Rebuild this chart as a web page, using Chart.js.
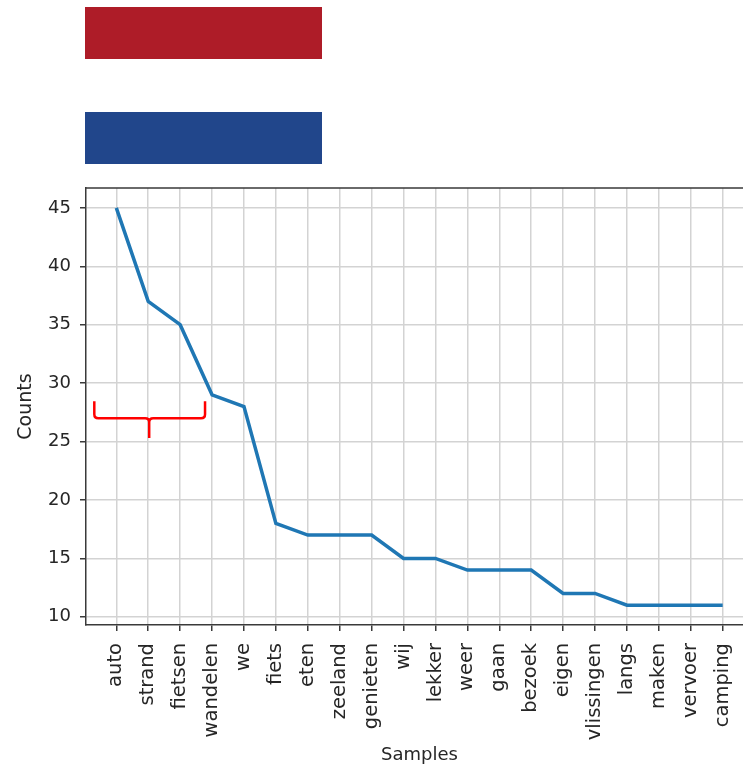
<!DOCTYPE html>
<html>
<head>
<meta charset="utf-8">
<script src="https://cdn.jsdelivr.net/npm/chart.js@4/dist/chart.umd.min.js"></script>
<style>
  html, body { margin: 0; padding: 0; background: #fff; overflow: hidden; width: 743px; height: 767px; }
  .flag { position: absolute; left: 85px; width: 237px; height: 52px; }
  .flag.red  { top: 7px;   background: #ae1c28; }
  .flag.blue { top: 112px; background: #21468b; }
  .chart-wrap { position: absolute; left: 0; top: 0; width: 780px; height: 767px; }
</style>
</head>
<body>
<div class="flag red"></div>
<div class="flag blue"></div>
<div class="chart-wrap"><canvas id="chart"></canvas></div>
<script>
// word frequencies
const samples = ['auto', 'strand', 'fietsen', 'wandelen', 'we', 'fiets', 'eten', 'zeeland', 'genieten', 'wij',
                 'lekker', 'weer', 'gaan', 'bezoek', 'eigen', 'vlissingen', 'langs', 'maken', 'vervoer', 'camping'];
const counts  = [45, 37, 35, 29, 28, 18, 17, 17, 17, 15, 15, 14, 14, 14, 12, 12, 11, 11, 11, 11];
const yTicks  = [10, 15, 20, 25, 30, 35, 40, 45];

// red curly brace annotation, in data units: [left, middle, right] and [arm top, bar, tip]
const braceX = [-0.69, 1.03, 2.78];
const braceY = [28.45, 27.0, 25.3];

const textColor = '#262626';
const family = "'DejaVu Sans', sans-serif";
const font = { family, size: 18 };
const rotFont = { family, size: 19.5 };   // rotated text reads a bit longer in the reference

// top / right spines (matplotlib box)
const spinePlugin = {
  id: 'spines',
  afterDraw(chart) {
    const { ctx, chartArea: a } = chart;
    ctx.save();
    ctx.strokeStyle = '#3a3a3a';
    ctx.lineWidth = 1.5;
    ctx.beginPath();
    ctx.moveTo(a.left, a.top);
    ctx.lineTo(a.right, a.top);
    ctx.lineTo(a.right, a.bottom);
    ctx.stroke();
    ctx.restore();
  }
};

const bracePlugin = {
  id: 'brace',
  afterDatasetsDraw(chart) {
    const { ctx, scales: { x, y } } = chart;
    const xl = x.getPixelForValue(braceX[0]);
    const xm = x.getPixelForValue(braceX[1]);
    const xr = x.getPixelForValue(braceX[2]);
    const yt = y.getPixelForValue(braceY[0]);
    const yb = y.getPixelForValue(braceY[1]);
    const yp = y.getPixelForValue(braceY[2]);
    const r = 4;
    ctx.save();
    ctx.strokeStyle = '#ff0000';
    ctx.lineWidth = 2.5;
    ctx.lineJoin = 'round';
    ctx.beginPath();
    ctx.moveTo(xl, yt);
    ctx.lineTo(xl, yb - r);
    ctx.quadraticCurveTo(xl, yb, xl + r, yb);
    ctx.lineTo(xm - r, yb);
    ctx.quadraticCurveTo(xm, yb, xm, yb + r);
    ctx.lineTo(xm, yp);
    ctx.moveTo(xm, yb + r);
    ctx.quadraticCurveTo(xm, yb, xm + r, yb);
    ctx.lineTo(xr - r, yb);
    ctx.quadraticCurveTo(xr, yb, xr, yb - r);
    ctx.lineTo(xr, yt);
    ctx.stroke();
    ctx.restore();
  }
};

Chart.defaults.font.family = family;
Chart.defaults.color = textColor;

new Chart(document.getElementById('chart'), {
  type: 'line',
  data: {
    datasets: [{
      data: counts.map((v, i) => ({ x: i, y: v })),
      borderColor: '#1f77b4',
      borderWidth: 3.5,
      pointRadius: 0,
      tension: 0,
      fill: false
    }]
  },
  options: {
    responsive: true,
    maintainAspectRatio: false,
    animation: false,
    layout: { padding: { top: 188, right: 27, left: 0, bottom: 0 } },
    plugins: { legend: { display: false }, tooltip: { enabled: false } },
    scales: {
      x: {
        type: 'linear',
        min: -0.95,
        max: 19.95,
        afterBuildTicks: s => { s.ticks = samples.map((_, i) => ({ value: i })); },
        afterFit: s => { s.height = 142; },
        ticks: {
          autoSkip: false,
          minRotation: 90,
          maxRotation: 90,
          padding: 12,
          font: rotFont,
          color: textColor,
          callback: v => samples[v]
        },
        grid: { color: '#d3d3d3', lineWidth: 1.5, tickColor: '#3a3a3a', tickLength: 6, tickWidth: 1.5 },
        border: { color: '#3a3a3a', width: 1.5 },
        title: { display: true, text: 'Samples', font, color: textColor, padding: { top: 0, bottom: 1 } }
      },
      y: {
        min: 9.3,
        max: 46.7,
        afterBuildTicks: s => { s.ticks = yTicks.map(v => ({ value: v })); },
        afterFit: s => { s.width = 86; },
        ticks: { padding: 9, font, color: textColor },
        grid: { color: '#d3d3d3', lineWidth: 1.5, tickColor: '#3a3a3a', tickLength: 6, tickWidth: 1.5 },
        border: { color: '#3a3a3a', width: 1.5 },
        title: { display: true, text: 'Counts', font: { family, size: 19 }, color: textColor, padding: { top: 15, bottom: 0 } }
      }
    }
  },
  plugins: [spinePlugin, bracePlugin]
});
</script>
</body>
</html>
